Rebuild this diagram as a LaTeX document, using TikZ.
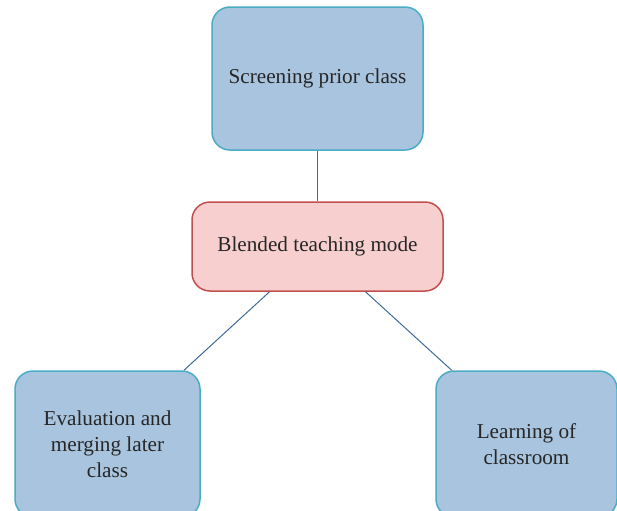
\documentclass[tikz,border=0pt]{standalone}
\usepackage{fontspec}
\setmainfont{Liberation Serif}
\usetikzlibrary{calc}
\definecolor{boxblue}{HTML}{A9C4DE}
\definecolor{edgeblue}{HTML}{4BACC6}
\definecolor{boxpink}{HTML}{F8CFCF}
\definecolor{edgered}{HTML}{C0504D}
\definecolor{linkblue}{HTML}{3D6A99}

\begin{document}
\begin{tikzpicture}[x=0.5pt,y=-0.5pt,
    stage/.style={draw=edgeblue, fill=boxblue, line width=0.75pt, rounded corners=9pt,
      align=center, font=\fontsize{10.6}{13}\selectfont, text=black!85},
    mode/.style={stage, draw=edgered, fill=boxpink},
    link/.style={draw=linkblue, line width=0.5pt}]
      \clip (0,0) rectangle (617,510);
      \node [stage, minimum width=105.5pt, minimum height=71.5pt] (prior) at (317.5,78.5) {Screening prior class};
      \node [mode, minimum width=125.5pt, minimum height=44.5pt] (blend) at (317.5,246.5) {Blended teaching mode};
      \node [stage, minimum width=92.5pt, minimum height=73pt] (later) at (107.5,444) {Evaluation and\\merging later\\class};
      \node [stage, minimum width=90.5pt, minimum height=73pt] (room) at (526.5,444) {Learning of\\classroom};
      \draw [link] (prior) -- (blend);
      \draw [link] ($(blend.south west)!0.31!(blend.south east)$) -- ($(later.north west)!0.91!(later.north east)$);
      \draw [link] ($(blend.south west)!0.69!(blend.south east)$) -- ($(room.north west)!0.09!(room.north east)$);
\end{tikzpicture}
\end{document}
